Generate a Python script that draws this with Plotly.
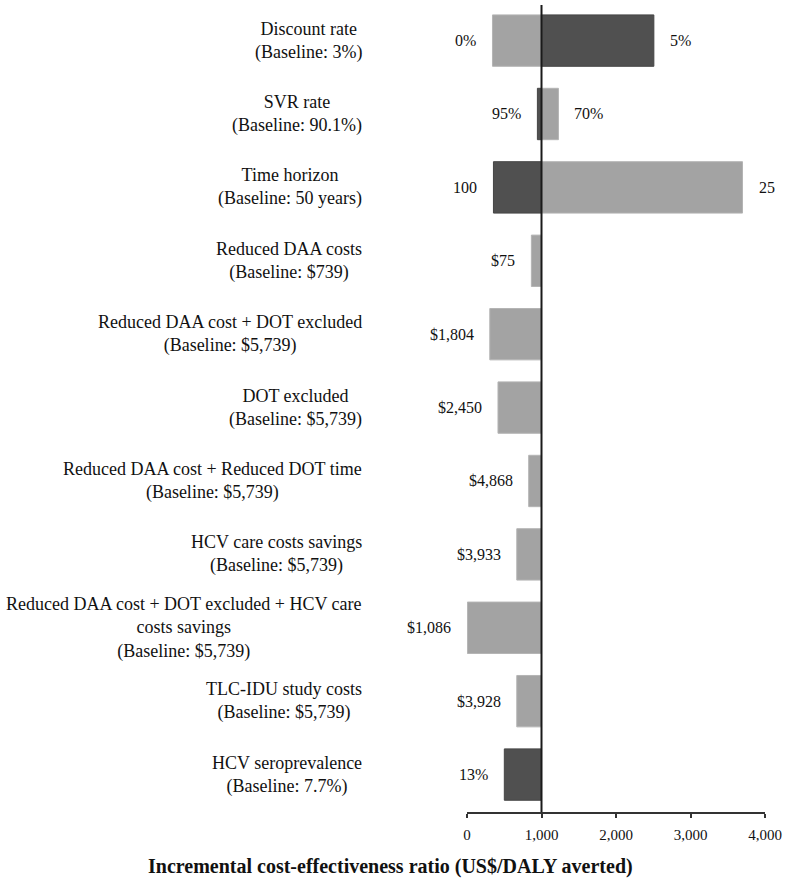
import plotly.graph_objects as go

# ---------------- data ----------------
categories = [
    "Discount rate<br>(Baseline: 3%)",
    "SVR rate<br>(Baseline: 90.1%)",
    "Time horizon<br>(Baseline: 50 years)",
    "Reduced DAA costs<br>(Baseline: $739)",
    "Reduced DAA cost + DOT excluded<br>(Baseline: $5,739)",
    "DOT excluded<br>(Baseline: $5,739)",
    "Reduced DAA cost + Reduced DOT time<br>(Baseline: $5,739)",
    "HCV care costs savings<br>(Baseline: $5,739)",
    "Reduced DAA cost + DOT excluded + HCV care<br>costs savings<br>(Baseline: $5,739)",
    "TLC-IDU study costs<br>(Baseline: $5,739)",
    "HCV seroprevalence<br>(Baseline: 7.7%)",
]
baseline_icer = 1000

# scenario with lower input value (light bars)
low_input_icer = [342, 1227, 3698, 864, 306, 416, 828, 668, 5, 668, None]
low_input_labels = ["0%", "70%", "25", "$75", "$1,804", "$2,450", "$4,868",
                    "$3,933", "$1,086", "$3,928", None]

# scenario with higher input value (dark bars)
high_input_icer = [2508, 945, 355, None, None, None, None, None, None, None, 501]
high_input_labels = ["5%", "95%", "100", None, None, None, None, None, None, None, "13%"]

x_ticks = [0, 1000, 2000, 3000, 4000]
x_tick_labels = ["0", "1,000", "2,000", "3,000", "4,000"]
x_title = "Incremental cost-effectiveness ratio (US$/DALY averted)"

# ---------------- figure ----------------
FONT = "Liberation Serif, Times New Roman, serif"
LIGHT = "#a3a3a3"
DARK = "#505050"

idx = list(range(len(categories)))


def offsets(vals):
    return [None if v is None else v - baseline_icer for v in vals]


fig = go.Figure()
fig.add_trace(go.Bar(
    orientation="h", y=idx, x=offsets(low_input_icer), base=baseline_icer,
    width=0.7, marker=dict(color=LIGHT, line=dict(color="#b4b4b4", width=1)),
    showlegend=False, hoverinfo="skip",
))
fig.add_trace(go.Bar(
    orientation="h", y=idx, x=offsets(high_input_icer), base=baseline_icer,
    width=0.7, marker=dict(color=DARK, line=dict(color="#454545", width=1)),
    showlegend=False, hoverinfo="skip",
))

annotations = []
# category labels
for i, cat in enumerate(categories):
    annotations.append(dict(
        x=-0.346, xref="paper", y=i, yref="y", text=cat, showarrow=False,
        xanchor="right", yanchor="middle", align="center",
        font=dict(family=FONT, size=18, color="#111111"),
    ))
# value labels
for vals, labs in ((low_input_icer, low_input_labels), (high_input_icer, high_input_labels)):
    for i, (v, lab) in enumerate(zip(vals, labs)):
        if v is None or lab is None:
            continue
        left = v < baseline_icer
        annotations.append(dict(
            x=v, xref="x", y=i, yref="y", text=lab, showarrow=False,
            xanchor="right" if left else "left", yanchor="middle",
            xshift=-14 if left else 14,
            font=dict(family=FONT, size=16, color="#111111"),
        ))
# axis title
annotations.append(dict(
    x=-0.256, xref="paper", y=-0.068, yref="paper", text="<b>" + x_title + "</b>",
    showarrow=False, xanchor="center", yanchor="middle",
    font=dict(family=FONT, size=20, color="#111111"),
))

fig.add_shape(type="line", xref="x", yref="paper", x0=baseline_icer, x1=baseline_icer,
              y0=0, y1=1, line=dict(color="#1a1a1a", width=2))

fig.update_layout(
    width=787, height=886,
    margin=dict(l=467, r=19, t=5, b=74),
    paper_bgcolor="white", plot_bgcolor="white",
    barmode="overlay",
    font=dict(family=FONT, size=15, color="#111111"),
    annotations=annotations,
    xaxis=dict(
        range=[0, 4000], tickvals=x_ticks, ticktext=x_tick_labels,
        showgrid=False, zeroline=False, showline=True, linecolor="#333333", linewidth=1.5,
        ticks="outside", ticklen=4, tickcolor="#333333", tickwidth=1.5,
        ticklabelstandoff=4,
        tickfont=dict(family=FONT, size=15, color="#111111"),
    ),
    yaxis=dict(
        range=[10.51, -0.485], showgrid=False, zeroline=False, showline=False,
        showticklabels=False, ticks="",
    ),
)

fig.write_html("out.html", config={"displayModeBar": False},
               post_script="document.body.style.margin='0';")
